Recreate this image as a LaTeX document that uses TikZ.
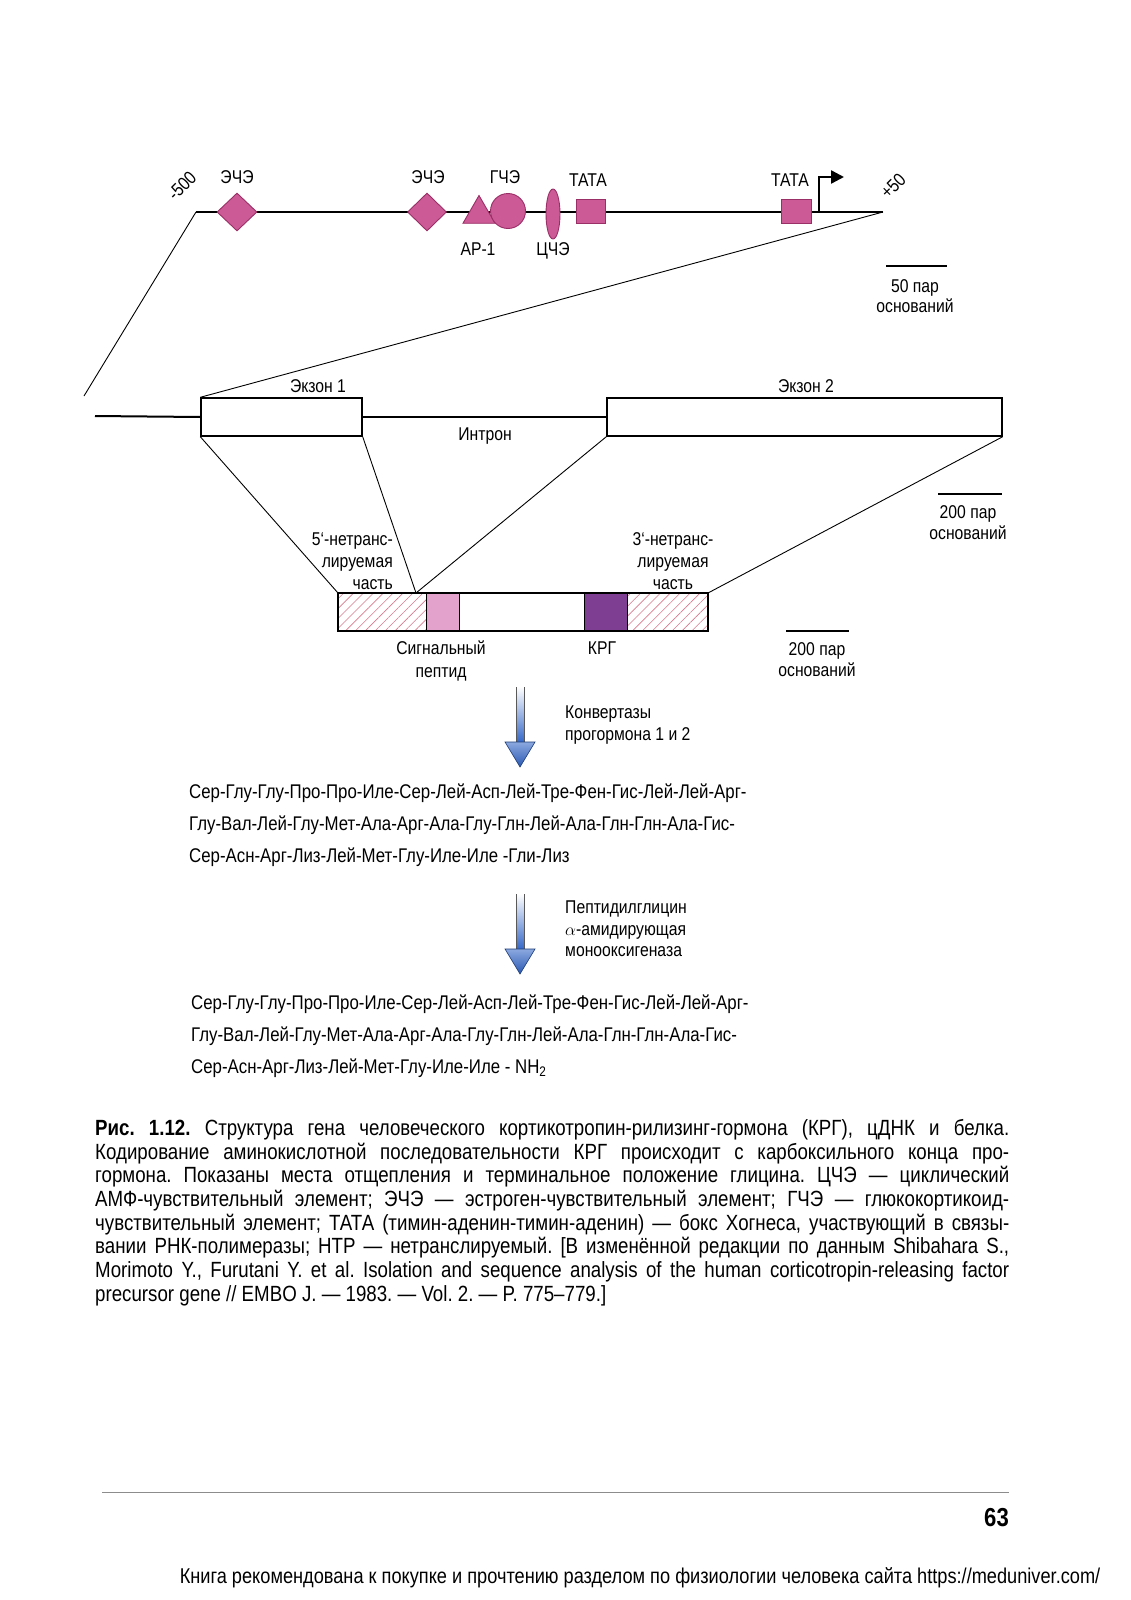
\documentclass[tikz,border=0pt]{standalone}
\usepackage{fontspec}
\setmainfont{Liberation Sans}[FakeStretch=0.85]
\usepackage{xcolor}
\definecolor{elemfill}{HTML}{CC5A96}
\definecolor{elemline}{HTML}{9A2E66}
\definecolor{sigfill}{HTML}{E2A2CC}
\definecolor{crhfill}{HTML}{7E3F92}
\definecolor{hatchcol}{HTML}{D9788C}
\definecolor{arrowblue}{HTML}{2E62C6}
\usepackage{tikz}
\usetikzlibrary{arrows.meta,positioning,shapes.geometric,patterns.meta}
\frenchspacing

\newcommand{\lblfont}{\fontsize{18.5}{21}\selectfont}
\newcommand{\seqfont}{\fontsize{19.8}{32}\selectfont}
\newcommand{\capfont}{\fontsize{22}{23.7}\selectfont}

\tikzset{
  dna/.style={line width=2pt},
  cutline/.style={line width=0.9pt},
  elem/.style={draw=elemline,fill=elemfill,line width=0.9pt,inner sep=0pt},
  lbl/.style={font=\lblfont,inner sep=0pt},
  exonbox/.style={draw,line width=1.4pt,inner sep=0pt,minimum height=38pt},
  scalebar/.style={line width=1.2pt},
  seqtext/.style={font=\seqfont,inner sep=0pt,align=left},
  hatch/.style={pattern={Lines[angle=45,distance=7pt,line width=0.6pt]},pattern color=hatchcol},
  pics/enzarrow/.style={code={
    \shade[top color=white,bottom color=arrowblue] (-4,0) rectangle (4,57);
    \draw[gray!70!black,line width=0.8pt] (-4,0) -- (-4,57) (4,0) -- (4,57);
    \shadedraw[top color=arrowblue!55,bottom color=arrowblue!90!black,draw=arrowblue!60!black,line width=0.6pt]
      (-15,55) -- (15,55) -- (0,80) -- cycle;
  }}
}

\begin{document}
\begin{tikzpicture}[x=1pt,y=-1pt]
\useasboundingbox[fill=white] (0,0) rectangle (1130,1600);

% promoter region
\coordinate (prl) at (196,212);
\coordinate (prr) at (883,212);
\coordinate (cutl) at (84,396);
\coordinate (tss) at (819,212);
\draw[dna] (prl) -- (prr);
\node[elem,diamond,minimum width=40pt,minimum height=38pt] (ere1) at (237,212) {};
\node[elem,diamond,minimum width=39pt,minimum height=38pt] (ere2) at (427,212) {};
\node[elem,regular polygon,regular polygon sides=3,minimum size=37pt] (ap1) at (479,214) {};
\node[elem,circle,minimum size=35pt] (gre) at (508,211) {};
\node[elem,ellipse,minimum width=14pt,minimum height=50pt] (cre) at (553,214) {};
\node[elem,minimum width=29pt,minimum height=24pt] (tata1) at (591,211) {};
\node[elem,minimum width=30pt,minimum height=24pt] (tata2) at (796,211) {};
\draw[line width=2.4pt,-{Triangle[length=13pt,width=13pt]}] (tss) |- (844,177);

\node[lbl] at (237,177) {ЭЧЭ};
\node[lbl] at (428,177) {ЭЧЭ};
\node[lbl] at (505,177) {ГЧЭ};
\node[lbl] at (588,180) {ТАТА};
\node[lbl] at (790,180) {ТАТА};
\node[lbl] at (478,249) {AP-1};
\node[lbl] at (553,251) {ЦЧЭ};
\node[lbl,rotate=45] at (182,186) {-500};
\node[lbl,rotate=45] at (893,186) {+50};

% scale bar, 50 bp
\draw[scalebar] (886,266) -- (947,266);
\node[lbl,align=center,font=\fontsize{18.5}{20.5}\selectfont] at (915,296) {50 пар\\оснований};

% gene
\node[exonbox,minimum width=161pt] (ex1) at (281.5,417) {};
\node[exonbox,minimum width=395pt] (ex2) at (804.5,417) {};
\draw[dna] (95,416) -- (ex1.west);
\draw[dna] (ex1.east) -- (ex2.west);
\node[lbl] at (318,386) {Экзон 1};
\node[lbl] at (806,386) {Экзон 2};
\node[lbl] at (485,436) {Интрон};

\draw[cutline] (prl) -- (cutl);
\draw[cutline] (prr) -- (ex1.north west);

% scale bar, 200 bp (gene)
\draw[scalebar] (938,494) -- (1002,494);
\node[lbl,align=center] at (968,523) {200 пар\\оснований};

% cDNA
\coordinate (mrnl) at (338,593);
\coordinate (mrnr) at (708,631);
\coordinate (j5) at (416,593);
\fill[hatch] (338,593) rectangle (426,631);
\fill[sigfill] (426,593) rectangle (459,631);
\fill[crhfill] (584,593) rectangle (627,631);
\fill[hatch] (627,593) rectangle (708,631);
\draw[line width=0.7pt] (426,593) -- (426,631) (459,593) -- (459,631)
  (584,593) -- (584,631) (627,593) -- (627,631);
\draw[line width=1.4pt] (mrnl) rectangle (mrnr);
\draw[cutline] (ex1.south west) -- (mrnl);
\draw[cutline] (ex1.south east) -- (j5);
\draw[cutline] (ex2.south west) -- (j5);
\draw[cutline] (ex2.south east) -- (708,593);

\node[lbl,align=right,anchor=east,font=\fontsize{18.5}{22}\selectfont] at (393,561) {5`-нетранс-\\лируемая\\часть};
\node[lbl,align=center,font=\fontsize{18.5}{22}\selectfont] at (673,561) {3`-нетранс-\\лируемая\\часть};
\node[lbl,align=center,font=\fontsize{18.5}{23}\selectfont] at (441,661) {Сигнальный\\пептид};
\node[lbl] at (602,648) {КРГ};

% scale bar, 200 bp (cDNA)
\draw[scalebar] (786,631) -- (849,631);
\node[lbl,align=center] at (817,660) {200 пар\\оснований};

% processing
\pic at (520,687) {enzarrow};
\node[lbl,anchor=west,align=left,font=\fontsize{18.5}{22}\selectfont] (enz1) at (565,725) {Конвертазы\\прогормона 1 и 2};
\node[seqtext,anchor=west] (seq1) at (189,825) {Сер-Глу-Глу-Про-Про-Иле-Сер-Лей-Асп-Лей-Тре-Фен-Гис-Лей-Лей-Арг-\\Глу-Вал-Лей-Глу-Мет-Ала-Арг-Ала-Глу-Глн-Лей-Ала-Глн-Глн-Ала-Гис-\\Сер-Асн-Арг-Лиз-Лей-Мет-Глу-Иле-Иле -Гли-Лиз};

\pic at (520,894) {enzarrow};
\node[lbl,anchor=west,align=left,font=\fontsize{18.5}{21.5}\selectfont] (enz2) at (565,929) {Пептидилглицин\\$\alpha$-амидирующая\\монооксигеназа};
\node[seqtext,anchor=west] (seq2) at (191,1036) {Сер-Глу-Глу-Про-Про-Иле-Сер-Лей-Асп-Лей-Тре-Фен-Гис-Лей-Лей-Арг-\\Глу-Вал-Лей-Глу-Мет-Ала-Арг-Ала-Глу-Глн-Лей-Ала-Глн-Глн-Ала-Гис-\\Сер-Асн-Арг-Лиз-Лей-Мет-Глу-Иле-Иле - NH\textsubscript{2}};

% caption
\node[font=\capfont,text width=914pt,align=justify,inner sep=0pt,anchor=north west] (caption) at (95,1119)
{\emergencystretch=2em\textbf{Рис. 1.12.} Структура гена человеческого кортикотропин-рилизинг-гормона (КРГ), цДНК и белка.\linebreak
Кодирование аминокислотной последовательности КРГ происходит с карбоксильного конца про-\linebreak
гормона. Показаны места отщепления и терминальное положение глицина. ЦЧЭ — циклический\linebreak
АМФ-чувствительный элемент; ЭЧЭ — эстроген-чувствительный элемент; ГЧЭ — глюкокортикоид-\linebreak
чувствительный элемент; ТАТА (тимин-аденин-тимин-аденин) — бокс Хогнеса, участвующий в связы-\linebreak
вании РНК-полимеразы; НТР — нетранслируемый. [В изменённой редакции по данным Shibahara S.,\linebreak
Morimoto Y., Furutani Y. et al. Isolation and sequence analysis of the human corticotropin-releasing factor\linebreak
precursor gene // EMBO J. — 1983. — Vol. 2. — P. 775–779.]};

% page footer
\draw[black!45,line width=1pt] (102,1492) -- (1009,1492);
\node[font=\fontsize{26}{30}\selectfont\bfseries,inner sep=0pt,anchor=east] (pageno) at (1009,1518) {63};
\node[font=\fontsize{21.4}{24}\selectfont,inner sep=0pt] (footer) at (640,1578) {Книга рекомендована к покупке и прочтению разделом по физиологии человека сайта https://meduniver.com/};
\end{tikzpicture}
\end{document}
